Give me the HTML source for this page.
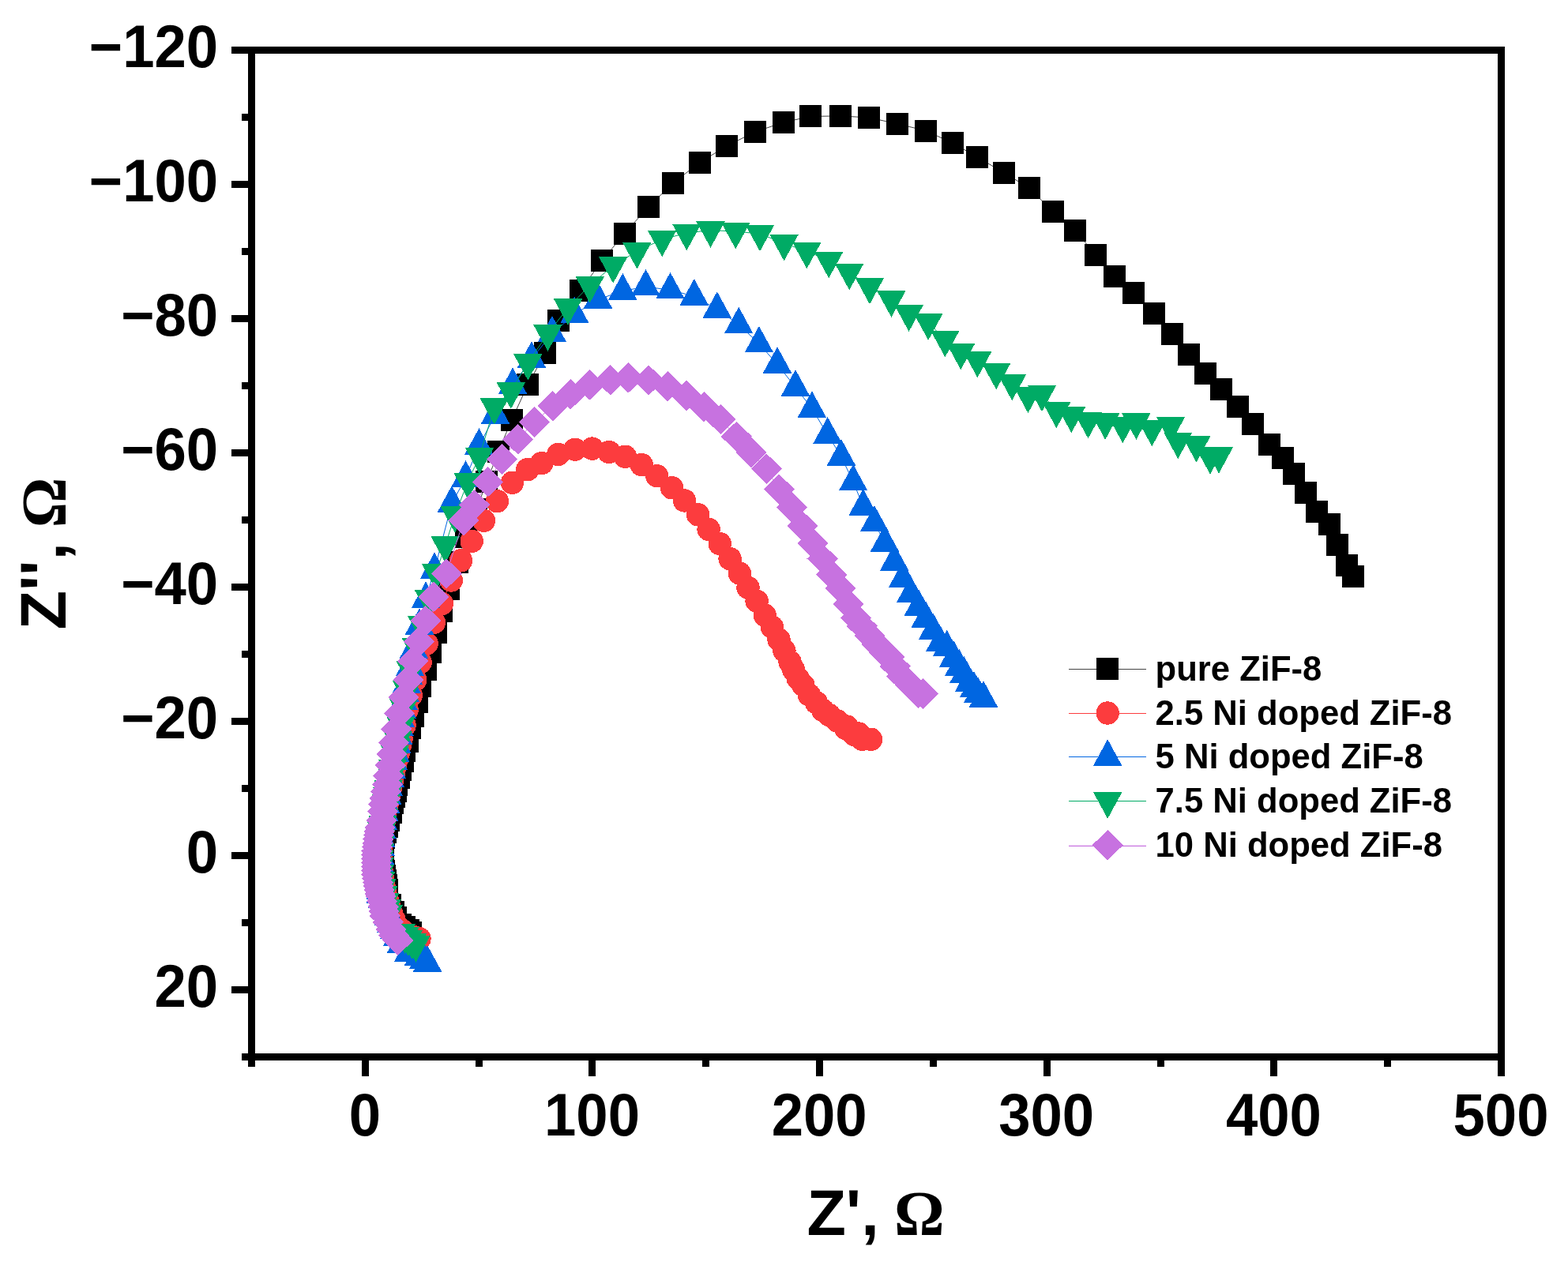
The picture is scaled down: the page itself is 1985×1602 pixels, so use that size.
<!DOCTYPE html>
<html lang="en">
<head>
<meta charset="utf-8">
<title>Nyquist plot - Ni doped ZiF-8</title>
<style>
html,body{margin:0;padding:0;background:#fff;}
body{width:1985px;height:1602px;overflow:hidden;}
svg{display:block;}
text{font-family:"Liberation Sans",sans-serif;font-weight:bold;fill:#000;}
.om{font-family:"Liberation Serif",serif;font-weight:bold;}
</style>
</head>
<body>
<svg width="1985" height="1602" viewBox="0 0 1985 1602">
<rect width="1985" height="1602" fill="#fff"/>
<g fill="#000" shape-rendering="crispEdges">
<rect x="314" y="59" width="9" height="1292"/>
<rect x="1896" y="59" width="9" height="1304"/>
<rect x="293" y="59" width="1612" height="9"/>
<rect x="306" y="1334" width="1599" height="9"/>
<rect x="293" y="229" width="22" height="9"/>
<rect x="293" y="399" width="22" height="9"/>
<rect x="293" y="569" width="22" height="9"/>
<rect x="293" y="739" width="22" height="9"/>
<rect x="293" y="909" width="22" height="9"/>
<rect x="293" y="1079" width="22" height="9"/>
<rect x="293" y="1249" width="22" height="9"/>
<rect x="306" y="144" width="9" height="9"/>
<rect x="306" y="314" width="9" height="9"/>
<rect x="306" y="484" width="9" height="9"/>
<rect x="306" y="654" width="9" height="9"/>
<rect x="306" y="824" width="9" height="9"/>
<rect x="306" y="994" width="9" height="9"/>
<rect x="306" y="1164" width="9" height="9"/>
<rect x="458" y="1342" width="9" height="21"/>
<rect x="745" y="1342" width="9" height="21"/>
<rect x="1033" y="1342" width="9" height="21"/>
<rect x="1321" y="1342" width="9" height="21"/>
<rect x="1608" y="1342" width="9" height="21"/>
<rect x="602" y="1342" width="9" height="9"/>
<rect x="889" y="1342" width="9" height="9"/>
<rect x="1177" y="1342" width="9" height="9"/>
<rect x="1465" y="1342" width="9" height="9"/>
<rect x="1752" y="1342" width="9" height="9"/>
</g>
<g font-size="72.5">
<text transform="translate(276.1 85.2) scale(1 1.036)" text-anchor="end">−120</text>
<text transform="translate(276.1 255.2) scale(1 1.036)" text-anchor="end">−100</text>
<text transform="translate(276.1 425.2) scale(1 1.036)" text-anchor="end">−80</text>
<text transform="translate(276.1 595.2) scale(1 1.036)" text-anchor="end">−60</text>
<text transform="translate(276.1 765.2) scale(1 1.036)" text-anchor="end">−40</text>
<text transform="translate(276.1 935.2) scale(1 1.036)" text-anchor="end">−20</text>
<text transform="translate(276.1 1105.2) scale(1 1.036)" text-anchor="end">0</text>
<text transform="translate(276.1 1275.2) scale(1 1.036)" text-anchor="end">20</text>
<text transform="translate(461.8 1437.7) scale(1 1.036)" text-anchor="middle">0</text>
<text transform="translate(749.5 1437.7) scale(1 1.036)" text-anchor="middle">100</text>
<text transform="translate(1037.1 1437.7) scale(1 1.036)" text-anchor="middle">200</text>
<text transform="translate(1324.7 1437.7) scale(1 1.036)" text-anchor="middle">300</text>
<text transform="translate(1612.4 1437.7) scale(1 1.036)" text-anchor="middle">400</text>
<text transform="translate(1900 1437.7) scale(1 1.036)" text-anchor="middle">500</text>
</g>
<text font-size="81" x="1021.4" y="1563.8">Z',</text>
<text class="om" font-size="79.5" x="1132" y="1563.8">Ω</text>
<text font-size="81" transform="translate(83 797.6) rotate(-90)">Z'',</text>
<text class="om" font-size="79.5" transform="translate(83 668.2) rotate(-90)">Ω</text>
<g fill="#000000">
<polyline points="1713.1,729.9 1705.1,715.9 1692.9,689.8 1683,663.9 1667,647.9 1653.1,624 1638,599.8 1624,579.8 1606.8,563 1585.9,537 1567,514.5 1546,492.8 1526,472.9 1505,449.4 1483.9,423.4 1460.5,396.9 1435,370.9 1410.5,349.5 1387,322.5 1360.9,291.9 1332.5,268 1303,237.9 1271,219 1237.4,198.9 1205.6,181 1172,165.5 1135.9,156.8 1100,148.9 1063.9,146.9 1026.4,147.4 992,154.9 955.9,167 919.9,184.9 885.5,206 851.9,232 821,262 790.5,295.5 762,330.4 734.7,367.8 706.9,406.1 690.4,446.9 668.1,487.4 647.8,531.8 630.8,572 616.3,610.2 603,645 590,680 578.9,711.8 567.8,745.9 559,773.8 552,800.7 545.1,825.6 538.9,847.8 532,868.8 528.1,888.7 522.9,906.8 518.9,921.9 516,938.8 512,950.5 510.1,963.8 506.8,974.9 504.8,984.7 501.9,993.9 500.9,1001.8 498.9,1008.6 497,1016.8 495,1028.6 492.4,1039.1 489.8,1047 487.8,1053.5 485.8,1061.4 485.3,1067.4 484.7,1073.4 484.5,1079.3 484.3,1085.3 484.3,1091.3 485,1097.3 485.7,1103.3 486.6,1109.2 487.5,1115.1 488.5,1121 489.5,1127 490,1130 494,1145.8 498,1154.9 501,1162.1 506.5,1171.3 511.7,1173.9 516.7,1177.8 519.8,1181.1" fill="none" stroke="#444444" stroke-width="1"/>
<g shape-rendering="crispEdges"><rect x="1699.1" y="715.9" width="28" height="28"/><rect x="1691.1" y="701.9" width="28" height="28"/><rect x="1678.9" y="675.8" width="28" height="28"/><rect x="1669" y="649.9" width="28" height="28"/><rect x="1653" y="633.9" width="28" height="28"/><rect x="1639.1" y="610" width="28" height="28"/><rect x="1624" y="585.8" width="28" height="28"/><rect x="1610" y="565.8" width="28" height="28"/><rect x="1592.8" y="549" width="28" height="28"/><rect x="1571.9" y="523" width="28" height="28"/><rect x="1553" y="500.5" width="28" height="28"/><rect x="1532" y="478.8" width="28" height="28"/><rect x="1512" y="458.9" width="28" height="28"/><rect x="1491" y="435.4" width="28" height="28"/><rect x="1469.9" y="409.4" width="28" height="28"/><rect x="1446.5" y="382.9" width="28" height="28"/><rect x="1421" y="356.9" width="28" height="28"/><rect x="1396.5" y="335.5" width="28" height="28"/><rect x="1373" y="308.5" width="28" height="28"/><rect x="1346.9" y="277.9" width="28" height="28"/><rect x="1318.5" y="254" width="28" height="28"/><rect x="1289" y="223.9" width="28" height="28"/><rect x="1257" y="205" width="28" height="28"/><rect x="1223.4" y="184.9" width="28" height="28"/><rect x="1191.6" y="167" width="28" height="28"/><rect x="1158" y="151.5" width="28" height="28"/><rect x="1121.9" y="142.8" width="28" height="28"/><rect x="1086" y="134.9" width="28" height="28"/><rect x="1049.9" y="132.9" width="28" height="28"/><rect x="1012.4" y="133.4" width="28" height="28"/><rect x="978" y="140.9" width="28" height="28"/><rect x="941.9" y="153" width="28" height="28"/><rect x="905.9" y="170.9" width="28" height="28"/><rect x="871.5" y="192" width="28" height="28"/><rect x="837.9" y="218" width="28" height="28"/><rect x="807" y="248" width="28" height="28"/><rect x="776.5" y="281.5" width="28" height="28"/><rect x="748" y="316.4" width="28" height="28"/><rect x="720.7" y="353.8" width="28" height="28"/><rect x="692.9" y="392.1" width="28" height="28"/><rect x="676.4" y="432.9" width="28" height="28"/><rect x="654.1" y="473.4" width="28" height="28"/><rect x="633.8" y="517.8" width="28" height="28"/><rect x="616.8" y="558" width="28" height="28"/><rect x="602.3" y="596.2" width="28" height="28"/><rect x="589" y="631" width="28" height="28"/><rect x="576" y="666" width="28" height="28"/><rect x="564.9" y="697.8" width="28" height="28"/><rect x="553.8" y="731.9" width="28" height="28"/><rect x="545" y="759.8" width="28" height="28"/><rect x="538" y="786.7" width="28" height="28"/><rect x="531.1" y="811.6" width="28" height="28"/><rect x="524.9" y="833.8" width="28" height="28"/><rect x="518" y="854.8" width="28" height="28"/><rect x="514.1" y="874.7" width="28" height="28"/><rect x="508.9" y="892.8" width="28" height="28"/><rect x="504.9" y="907.9" width="28" height="28"/><rect x="502" y="924.8" width="28" height="28"/><rect x="498" y="936.5" width="28" height="28"/><rect x="496.1" y="949.8" width="28" height="28"/><rect x="492.8" y="960.9" width="28" height="28"/><rect x="490.8" y="970.7" width="28" height="28"/><rect x="487.9" y="979.9" width="28" height="28"/><rect x="486.9" y="987.8" width="28" height="28"/><rect x="484.9" y="994.6" width="28" height="28"/><rect x="483" y="1002.8" width="28" height="28"/><rect x="481" y="1014.6" width="28" height="28"/><rect x="478.4" y="1025.1" width="28" height="28"/><rect x="475.8" y="1033" width="28" height="28"/><rect x="473.8" y="1039.5" width="28" height="28"/><rect x="471.8" y="1047.4" width="28" height="28"/><rect x="471.3" y="1053.4" width="28" height="28"/><rect x="470.7" y="1059.4" width="28" height="28"/><rect x="470.5" y="1065.3" width="28" height="28"/><rect x="470.3" y="1071.3" width="28" height="28"/><rect x="470.3" y="1077.3" width="28" height="28"/><rect x="471" y="1083.3" width="28" height="28"/><rect x="471.7" y="1089.3" width="28" height="28"/><rect x="472.6" y="1095.2" width="28" height="28"/><rect x="473.5" y="1101.1" width="28" height="28"/><rect x="474.5" y="1107" width="28" height="28"/><rect x="475.5" y="1113" width="28" height="28"/><rect x="476" y="1116" width="28" height="28"/><rect x="480" y="1131.8" width="28" height="28"/><rect x="484" y="1140.9" width="28" height="28"/><rect x="487" y="1148.1" width="28" height="28"/><rect x="492.5" y="1157.3" width="28" height="28"/><rect x="497.7" y="1159.9" width="28" height="28"/><rect x="502.7" y="1163.8" width="28" height="28"/><rect x="505.8" y="1167.1" width="28" height="28"/></g>
</g>
<g fill="#FC3C3E">
<polyline points="1102.5,936.3 1091.8,936.3 1087,929 1081.3,930.5 1071.9,920 1070.8,922.5 1060,913 1049.8,905.5 1041.9,899.6 1033.5,889.9 1024.4,880.1 1016.7,867.5 1010.2,859.1 1004.5,848 1000.1,838.5 992.9,824.2 986,809.8 977.4,794.1 968.2,779 958.1,761.3 947,744.3 936.3,726 924.1,707.6 911.2,688.6 897.1,670.4 883.5,651.7 866.5,634 850.5,617.7 831.7,602.7 812.2,588.6 791.6,578.3 771,572.5 749.6,568.1 728,569.2 706.7,575.5 685.8,586.6 667.9,594.6 648.5,611.2 629.4,634.7 612.4,659.3 597.2,685.3 583.5,709.9 571.3,735 559.4,764.5 549.4,788.2 540.2,815 532.1,838.6 525.8,860.9 520.3,880.5 515.1,898.8 512.1,918.5 508.1,935.5 506.2,944.3 504.3,953.1 502.3,961.9 500.4,970.7 498.5,979.5 496.6,988.3 494.6,997 492.9,1005.9 491.1,1014.7 489.4,1023.5 487.7,1032.4 486.2,1041.2 484.8,1050.1 483.7,1059.1 483,1068 482.5,1077 482.3,1086 482.6,1095 483.4,1104 484.7,1112.9 486,1121.8 487.9,1130.6 490.1,1139.3 492.6,1147.9 495.5,1156.4 498.8,1164.8 502.7,1172.9 509.6,1178.7 517.1,1183.6 525.4,1187 531,1188.7" fill="none" stroke="#FC3C3E" stroke-width="1"/>
<g shape-rendering="crispEdges"><circle cx="1102.5" cy="936.3" r="14.7"/><circle cx="1091.8" cy="936.3" r="14.7"/><circle cx="1087" cy="929" r="14.7"/><circle cx="1081.3" cy="930.5" r="14.7"/><circle cx="1071.9" cy="920" r="14.7"/><circle cx="1070.8" cy="922.5" r="14.7"/><circle cx="1060" cy="913" r="14.7"/><circle cx="1049.8" cy="905.5" r="14.7"/><circle cx="1041.9" cy="899.6" r="14.7"/><circle cx="1033.5" cy="889.9" r="14.7"/><circle cx="1024.4" cy="880.1" r="14.7"/><circle cx="1016.7" cy="867.5" r="14.7"/><circle cx="1010.2" cy="859.1" r="14.7"/><circle cx="1004.5" cy="848" r="14.7"/><circle cx="1000.1" cy="838.5" r="14.7"/><circle cx="992.9" cy="824.2" r="14.7"/><circle cx="986" cy="809.8" r="14.7"/><circle cx="977.4" cy="794.1" r="14.7"/><circle cx="968.2" cy="779" r="14.7"/><circle cx="958.1" cy="761.3" r="14.7"/><circle cx="947" cy="744.3" r="14.7"/><circle cx="936.3" cy="726" r="14.7"/><circle cx="924.1" cy="707.6" r="14.7"/><circle cx="911.2" cy="688.6" r="14.7"/><circle cx="897.1" cy="670.4" r="14.7"/><circle cx="883.5" cy="651.7" r="14.7"/><circle cx="866.5" cy="634" r="14.7"/><circle cx="850.5" cy="617.7" r="14.7"/><circle cx="831.7" cy="602.7" r="14.7"/><circle cx="812.2" cy="588.6" r="14.7"/><circle cx="791.6" cy="578.3" r="14.7"/><circle cx="771" cy="572.5" r="14.7"/><circle cx="749.6" cy="568.1" r="14.7"/><circle cx="728" cy="569.2" r="14.7"/><circle cx="706.7" cy="575.5" r="14.7"/><circle cx="685.8" cy="586.6" r="14.7"/><circle cx="667.9" cy="594.6" r="14.7"/><circle cx="648.5" cy="611.2" r="14.7"/><circle cx="629.4" cy="634.7" r="14.7"/><circle cx="612.4" cy="659.3" r="14.7"/><circle cx="597.2" cy="685.3" r="14.7"/><circle cx="583.5" cy="709.9" r="14.7"/><circle cx="571.3" cy="735" r="14.7"/><circle cx="559.4" cy="764.5" r="14.7"/><circle cx="549.4" cy="788.2" r="14.7"/><circle cx="540.2" cy="815" r="14.7"/><circle cx="532.1" cy="838.6" r="14.7"/><circle cx="525.8" cy="860.9" r="14.7"/><circle cx="520.3" cy="880.5" r="14.7"/><circle cx="515.1" cy="898.8" r="14.7"/><circle cx="512.1" cy="918.5" r="14.7"/><circle cx="508.1" cy="935.5" r="14.7"/><circle cx="506.2" cy="944.3" r="14.7"/><circle cx="504.3" cy="953.1" r="14.7"/><circle cx="502.3" cy="961.9" r="14.7"/><circle cx="500.4" cy="970.7" r="14.7"/><circle cx="498.5" cy="979.5" r="14.7"/><circle cx="496.6" cy="988.3" r="14.7"/><circle cx="494.6" cy="997" r="14.7"/><circle cx="492.9" cy="1005.9" r="14.7"/><circle cx="491.1" cy="1014.7" r="14.7"/><circle cx="489.4" cy="1023.5" r="14.7"/><circle cx="487.7" cy="1032.4" r="14.7"/><circle cx="486.2" cy="1041.2" r="14.7"/><circle cx="484.8" cy="1050.1" r="14.7"/><circle cx="483.7" cy="1059.1" r="14.7"/><circle cx="483" cy="1068" r="14.7"/><circle cx="482.5" cy="1077" r="14.7"/><circle cx="482.3" cy="1086" r="14.7"/><circle cx="482.6" cy="1095" r="14.7"/><circle cx="483.4" cy="1104" r="14.7"/><circle cx="484.7" cy="1112.9" r="14.7"/><circle cx="486" cy="1121.8" r="14.7"/><circle cx="487.9" cy="1130.6" r="14.7"/><circle cx="490.1" cy="1139.3" r="14.7"/><circle cx="492.6" cy="1147.9" r="14.7"/><circle cx="495.5" cy="1156.4" r="14.7"/><circle cx="498.8" cy="1164.8" r="14.7"/><circle cx="502.7" cy="1172.9" r="14.7"/><circle cx="509.6" cy="1178.7" r="14.7"/><circle cx="517.1" cy="1183.6" r="14.7"/><circle cx="525.4" cy="1187" r="14.7"/><circle cx="531" cy="1188.7" r="14.7"/></g>
</g>
<g fill="#0066E1">
<polyline points="1245,884.3 1238,879.2 1233,872.2 1226.9,864.9 1220.5,853.4 1214.4,844.4 1207.2,833.3 1198.7,820.2 1190.1,814.1 1181.2,798.4 1171.9,783.3 1162.9,768.4 1153,752.1 1142.9,733.1 1132.2,711.4 1120,687.4 1107,662.2 1092.8,641.3 1080.1,610.2 1065,578.3 1047.7,550.3 1027.9,517.5 1007,490.3 984,461.4 960.9,435.2 935.2,411 907.8,391.5 878.8,375.3 848.5,367.2 817.5,363.2 788.3,368.4 757,379.3 727.4,398.1 699,422.2 673,454.5 649.1,487.7 627,525.5 606.4,564.5 589.5,605.4 572,637.3 550.1,721.6 539,758.7 531,792.4 523.8,822.8 519,845 516.9,855.8 514.8,866.6 512.8,877.4 510.8,888.2 509,899.1 507.1,909.9 505.6,920.8 504.1,931.7 502.3,942.6 500.2,953.4 498.1,964.2 496,975 493.9,985.7 491.9,996.6 490,1007.4 488.3,1018.3 486.6,1029.1 485.1,1040 483.7,1050.9 482.6,1061.9 481.7,1072.8 481.2,1083.8 481.1,1094.8 481.2,1105.8 481.5,1116.8 481.9,1127.8 482.1,1132.3 484.1,1138.8 488.7,1152.6 491.9,1161.1 495,1170 499,1178 503,1187 508.1,1195.4 516.9,1206.9 530,1211.5 536.5,1215.4 541.1,1219.4" fill="none" stroke="#0066E1" stroke-width="1"/>
<g shape-rendering="crispEdges"><path d="M1245 862L1263.2 895.5L1226.8 895.5Z"/><path d="M1238 856.9L1256.2 890.4L1219.8 890.4Z"/><path d="M1233 849.9L1251.2 883.4L1214.8 883.4Z"/><path d="M1226.9 842.6L1245.1 876.1L1208.7 876.1Z"/><path d="M1220.5 831.1L1238.7 864.6L1202.3 864.6Z"/><path d="M1214.4 822.1L1232.6 855.6L1196.2 855.6Z"/><path d="M1207.2 811L1225.4 844.5L1189 844.5Z"/><path d="M1198.7 797.9L1216.9 831.4L1180.5 831.4Z"/><path d="M1190.1 791.8L1208.3 825.3L1171.9 825.3Z"/><path d="M1181.2 776.1L1199.4 809.6L1163 809.6Z"/><path d="M1171.9 761L1190.1 794.5L1153.7 794.5Z"/><path d="M1162.9 746.1L1181.1 779.6L1144.7 779.6Z"/><path d="M1153 729.8L1171.2 763.3L1134.8 763.3Z"/><path d="M1142.9 710.8L1161.1 744.3L1124.7 744.3Z"/><path d="M1132.2 689.1L1150.4 722.6L1114 722.6Z"/><path d="M1120 665.1L1138.2 698.6L1101.8 698.6Z"/><path d="M1107 639.9L1125.2 673.4L1088.8 673.4Z"/><path d="M1092.8 619L1111 652.5L1074.6 652.5Z"/><path d="M1080.1 587.9L1098.3 621.4L1061.9 621.4Z"/><path d="M1065 556L1083.2 589.5L1046.8 589.5Z"/><path d="M1047.7 528L1065.9 561.5L1029.5 561.5Z"/><path d="M1027.9 495.2L1046.1 528.7L1009.7 528.7Z"/><path d="M1007 468L1025.2 501.5L988.8 501.5Z"/><path d="M984 439.1L1002.2 472.6L965.8 472.6Z"/><path d="M960.9 412.9L979.1 446.4L942.7 446.4Z"/><path d="M935.2 388.7L953.4 422.2L917 422.2Z"/><path d="M907.8 369.2L926 402.7L889.6 402.7Z"/><path d="M878.8 353L897 386.5L860.6 386.5Z"/><path d="M848.5 344.9L866.7 378.4L830.3 378.4Z"/><path d="M817.5 340.9L835.7 374.4L799.3 374.4Z"/><path d="M788.3 346.1L806.5 379.6L770.1 379.6Z"/><path d="M757 357L775.2 390.5L738.8 390.5Z"/><path d="M727.4 375.8L745.6 409.3L709.2 409.3Z"/><path d="M699 399.9L717.2 433.4L680.8 433.4Z"/><path d="M673 432.2L691.2 465.7L654.8 465.7Z"/><path d="M649.1 465.4L667.3 498.9L630.9 498.9Z"/><path d="M627 503.2L645.2 536.7L608.8 536.7Z"/><path d="M606.4 542.2L624.6 575.7L588.2 575.7Z"/><path d="M589.5 583.1L607.7 616.6L571.3 616.6Z"/><path d="M572 615L590.2 648.5L553.8 648.5Z"/><path d="M550.1 699.3L568.3 732.8L531.9 732.8Z"/><path d="M539 736.4L557.2 769.9L520.8 769.9Z"/><path d="M531 770.1L549.2 803.6L512.8 803.6Z"/><path d="M523.8 800.5L542 834L505.6 834Z"/><path d="M519 822.7L537.2 856.2L500.8 856.2Z"/><path d="M516.9 833.5L535.1 867L498.7 867Z"/><path d="M514.8 844.3L533 877.8L496.6 877.8Z"/><path d="M512.8 855.1L531 888.6L494.6 888.6Z"/><path d="M510.8 865.9L529 899.4L492.6 899.4Z"/><path d="M509 876.8L527.2 910.3L490.8 910.3Z"/><path d="M507.1 887.6L525.3 921.1L488.9 921.1Z"/><path d="M505.6 898.5L523.8 932L487.4 932Z"/><path d="M504.1 909.4L522.3 942.9L485.9 942.9Z"/><path d="M502.3 920.3L520.5 953.8L484.1 953.8Z"/><path d="M500.2 931.1L518.4 964.6L482 964.6Z"/><path d="M498.1 941.9L516.3 975.4L479.9 975.4Z"/><path d="M496 952.7L514.2 986.2L477.8 986.2Z"/><path d="M493.9 963.4L512.1 996.9L475.7 996.9Z"/><path d="M491.9 974.3L510.1 1007.8L473.7 1007.8Z"/><path d="M490 985.1L508.2 1018.6L471.8 1018.6Z"/><path d="M488.3 996L506.5 1029.5L470.1 1029.5Z"/><path d="M486.6 1006.8L504.8 1040.3L468.4 1040.3Z"/><path d="M485.1 1017.7L503.3 1051.2L466.9 1051.2Z"/><path d="M483.7 1028.6L501.9 1062.1L465.5 1062.1Z"/><path d="M482.6 1039.6L500.8 1073.1L464.4 1073.1Z"/><path d="M481.7 1050.5L499.9 1084L463.5 1084Z"/><path d="M481.2 1061.5L499.4 1095L463 1095Z"/><path d="M481.1 1072.5L499.3 1106L462.9 1106Z"/><path d="M481.2 1083.5L499.4 1117L463 1117Z"/><path d="M481.5 1094.5L499.7 1128L463.3 1128Z"/><path d="M481.9 1105.5L500.1 1139L463.7 1139Z"/><path d="M482.1 1110L500.3 1143.5L463.9 1143.5Z"/><path d="M484.1 1116.5L502.3 1150L465.9 1150Z"/><path d="M488.7 1130.3L506.9 1163.8L470.5 1163.8Z"/><path d="M491.9 1138.8L510.1 1172.3L473.7 1172.3Z"/><path d="M495 1147.7L513.2 1181.2L476.8 1181.2Z"/><path d="M499 1155.7L517.2 1189.2L480.8 1189.2Z"/><path d="M503 1164.7L521.2 1198.2L484.8 1198.2Z"/><path d="M508.1 1173.1L526.3 1206.6L489.9 1206.6Z"/><path d="M516.9 1184.6L535.1 1218.1L498.7 1218.1Z"/><path d="M530 1189.2L548.2 1222.7L511.8 1222.7Z"/><path d="M536.5 1193.1L554.7 1226.6L518.3 1226.6Z"/><path d="M541.1 1197.1L559.3 1230.6L522.9 1230.6Z"/></g>
</g>
<g fill="#00AB65">
<polyline points="1543,577.2 1532,578.4 1514.5,563.1 1491.3,558.7 1482,539.1 1458.3,543 1438.4,534.5 1421.3,539 1399.2,534.5 1377.5,533 1356.3,525.9 1337.4,519.9 1319,499.1 1301.5,500.9 1281.2,485 1261.2,471.1 1237.4,456 1216.3,445.9 1196.4,430 1175.2,408.6 1150.6,397.6 1128.4,379.5 1101,363 1075.2,345.1 1049.2,330.1 1021.4,318.1 992.6,308.2 962,296.1 931.3,293.1 899.5,291.5 869.3,295.1 838.2,303.1 806.4,318.3 776.2,336.4 746.7,361.4 719.1,389.6 693.5,422.5 668.3,459.5 646.8,495.5 625.8,515.5 607,578 592.3,609.7 575.9,652.5 563.7,690.5 552,725.2 543.1,758.6 534.3,791.4 527.1,819.6 519.9,848.6 515,873.3 511,896.2 507.4,919.1 503.5,937.4 501.7,946.2 500,955.1 498.4,963.9 496.9,972.8 495.2,981.6 493.5,990.5 491.9,999.3 490.3,1008.2 488.8,1017.1 487.3,1025.9 485.9,1034.8 484.5,1043.7 483.2,1052.6 482.1,1061.5 481.2,1070.5 480.6,1079.5 480.3,1088.5 480.5,1097.5 480.9,1106.5 482.1,1115.4 483.4,1124.3 485.4,1133 487.5,1141.8 489.7,1150.5 492,1157.2 507.7,1181.5 512.5,1185.5 517,1189 522,1193 526.5,1196.3" fill="none" stroke="#00AB65" stroke-width="1"/>
<g shape-rendering="crispEdges"><path d="M1543 599.5L1561.2 566L1524.8 566Z"/><path d="M1532 600.7L1550.2 567.2L1513.8 567.2Z"/><path d="M1514.5 585.4L1532.7 551.9L1496.3 551.9Z"/><path d="M1491.3 581L1509.5 547.5L1473.1 547.5Z"/><path d="M1482 561.4L1500.2 527.9L1463.8 527.9Z"/><path d="M1458.3 565.3L1476.5 531.8L1440.1 531.8Z"/><path d="M1438.4 556.8L1456.6 523.3L1420.2 523.3Z"/><path d="M1421.3 561.3L1439.5 527.8L1403.1 527.8Z"/><path d="M1399.2 556.8L1417.4 523.3L1381 523.3Z"/><path d="M1377.5 555.3L1395.7 521.8L1359.3 521.8Z"/><path d="M1356.3 548.2L1374.5 514.7L1338.1 514.7Z"/><path d="M1337.4 542.2L1355.6 508.7L1319.2 508.7Z"/><path d="M1319 521.4L1337.2 487.9L1300.8 487.9Z"/><path d="M1301.5 523.2L1319.7 489.7L1283.3 489.7Z"/><path d="M1281.2 507.3L1299.4 473.8L1263 473.8Z"/><path d="M1261.2 493.4L1279.4 459.9L1243 459.9Z"/><path d="M1237.4 478.3L1255.6 444.8L1219.2 444.8Z"/><path d="M1216.3 468.2L1234.5 434.7L1198.1 434.7Z"/><path d="M1196.4 452.3L1214.6 418.8L1178.2 418.8Z"/><path d="M1175.2 430.9L1193.4 397.4L1157 397.4Z"/><path d="M1150.6 419.9L1168.8 386.4L1132.4 386.4Z"/><path d="M1128.4 401.8L1146.6 368.3L1110.2 368.3Z"/><path d="M1101 385.3L1119.2 351.8L1082.8 351.8Z"/><path d="M1075.2 367.4L1093.4 333.9L1057 333.9Z"/><path d="M1049.2 352.4L1067.4 318.9L1031 318.9Z"/><path d="M1021.4 340.4L1039.6 306.9L1003.2 306.9Z"/><path d="M992.6 330.5L1010.8 297L974.4 297Z"/><path d="M962 318.4L980.2 284.9L943.8 284.9Z"/><path d="M931.3 315.4L949.5 281.9L913.1 281.9Z"/><path d="M899.5 313.8L917.7 280.3L881.3 280.3Z"/><path d="M869.3 317.4L887.5 283.9L851.1 283.9Z"/><path d="M838.2 325.4L856.4 291.9L820 291.9Z"/><path d="M806.4 340.6L824.6 307.1L788.2 307.1Z"/><path d="M776.2 358.7L794.4 325.2L758 325.2Z"/><path d="M746.7 383.7L764.9 350.2L728.5 350.2Z"/><path d="M719.1 411.9L737.3 378.4L700.9 378.4Z"/><path d="M693.5 444.8L711.7 411.3L675.3 411.3Z"/><path d="M668.3 481.8L686.5 448.3L650.1 448.3Z"/><path d="M646.8 517.8L665 484.3L628.6 484.3Z"/><path d="M625.8 537.8L644 504.3L607.6 504.3Z"/><path d="M607 600.3L625.2 566.8L588.8 566.8Z"/><path d="M592.3 632L610.5 598.5L574.1 598.5Z"/><path d="M575.9 674.8L594.1 641.3L557.7 641.3Z"/><path d="M563.7 712.8L581.9 679.3L545.5 679.3Z"/><path d="M552 747.5L570.2 714L533.8 714Z"/><path d="M543.1 780.9L561.3 747.4L524.9 747.4Z"/><path d="M534.3 813.7L552.5 780.2L516.1 780.2Z"/><path d="M527.1 841.9L545.3 808.4L508.9 808.4Z"/><path d="M519.9 870.9L538.1 837.4L501.7 837.4Z"/><path d="M515 895.6L533.2 862.1L496.8 862.1Z"/><path d="M511 918.5L529.2 885L492.8 885Z"/><path d="M507.4 941.4L525.6 907.9L489.2 907.9Z"/><path d="M503.5 959.7L521.7 926.2L485.3 926.2Z"/><path d="M501.7 968.5L519.9 935L483.5 935Z"/><path d="M500 977.4L518.2 943.9L481.8 943.9Z"/><path d="M498.4 986.2L516.6 952.7L480.2 952.7Z"/><path d="M496.9 995.1L515.1 961.6L478.7 961.6Z"/><path d="M495.2 1003.9L513.4 970.4L477 970.4Z"/><path d="M493.5 1012.8L511.7 979.3L475.3 979.3Z"/><path d="M491.9 1021.6L510.1 988.1L473.7 988.1Z"/><path d="M490.3 1030.5L508.5 997L472.1 997Z"/><path d="M488.8 1039.4L507 1005.9L470.6 1005.9Z"/><path d="M487.3 1048.2L505.5 1014.7L469.1 1014.7Z"/><path d="M485.9 1057.1L504.1 1023.6L467.7 1023.6Z"/><path d="M484.5 1066L502.7 1032.5L466.3 1032.5Z"/><path d="M483.2 1074.9L501.4 1041.4L465 1041.4Z"/><path d="M482.1 1083.8L500.3 1050.3L463.9 1050.3Z"/><path d="M481.2 1092.8L499.4 1059.3L463 1059.3Z"/><path d="M480.6 1101.8L498.8 1068.3L462.4 1068.3Z"/><path d="M480.3 1110.8L498.5 1077.3L462.1 1077.3Z"/><path d="M480.5 1119.8L498.7 1086.3L462.3 1086.3Z"/><path d="M480.9 1128.8L499.1 1095.3L462.7 1095.3Z"/><path d="M482.1 1137.7L500.3 1104.2L463.9 1104.2Z"/><path d="M483.4 1146.6L501.6 1113.1L465.2 1113.1Z"/><path d="M485.4 1155.3L503.6 1121.8L467.2 1121.8Z"/><path d="M487.5 1164.1L505.7 1130.6L469.3 1130.6Z"/><path d="M489.7 1172.8L507.9 1139.3L471.5 1139.3Z"/><path d="M492 1179.5L510.2 1146L473.8 1146Z"/><path d="M507.7 1203.8L525.9 1170.3L489.5 1170.3Z"/><path d="M512.5 1207.8L530.7 1174.3L494.3 1174.3Z"/><path d="M517 1211.3L535.2 1177.8L498.8 1177.8Z"/><path d="M522 1215.3L540.2 1181.8L503.8 1181.8Z"/><path d="M526.5 1218.6L544.7 1185.1L508.3 1185.1Z"/></g>
</g>
<g fill="#C772E0">
<polyline points="1168.6,878.4 1162.5,877.8 1152,867 1141.7,856.3 1133.3,843.8 1126.1,832 1119.4,826.5 1110,816 1100.8,805 1091.3,792.8 1083.5,782.3 1073.9,764.9 1063.9,744.8 1052.8,727.7 1041.1,707.5 1029,688 1015.8,666.1 1002.7,642.5 986.4,619.8 970.3,593.6 951,573 932.4,552.9 912.4,531 891.3,515.4 869.2,501 845.3,489.4 821.2,481.5 795.4,478.4 772.6,481.3 746.5,487.3 722.3,499.4 699.8,514.2 676.4,534.5 655.7,556.4 635.6,581.5 617.6,610.2 600.7,639.2 587,658.8 565.2,726.5 548.8,756 538.9,786.2 530.7,812.4 522.8,837.3 517.1,860.9 510.8,883.1 505.5,903.8 501.6,923.1 498.8,940.6 496.2,954.9 494.2,969.3 491.3,982.4 490.3,993.5 488.3,1002.7 487.3,1011.2 485.3,1018.4 484.4,1027.6 483.1,1038.7 481.1,1047.9 480.3,1052.8 479.6,1057.8 478.8,1062.7 478.1,1067.7 477.4,1072.6 477,1077.6 476.6,1082.6 476.3,1087.6 476.3,1092.6 476.3,1097.6 476.5,1102.6 477,1107.5 477.5,1112.5 478.3,1117.5 479,1122.4 480,1127.3 481,1132.2 481.6,1135 483.5,1141.5 485.4,1148.1 486.4,1154 487.4,1159.9 491.3,1167.8 495.2,1176.9 498.5,1184.8 503.9,1190.7" fill="none" stroke="#C772E0" stroke-width="1"/>
<g shape-rendering="crispEdges"><path d="M1168.6 859.2L1188.2 878.4L1168.6 897.6L1149 878.4Z"/><path d="M1162.5 858.6L1182.1 877.8L1162.5 897L1142.9 877.8Z"/><path d="M1152 847.8L1171.6 867L1152 886.2L1132.4 867Z"/><path d="M1141.7 837.1L1161.3 856.3L1141.7 875.5L1122.1 856.3Z"/><path d="M1133.3 824.6L1152.9 843.8L1133.3 863L1113.7 843.8Z"/><path d="M1126.1 812.8L1145.7 832L1126.1 851.2L1106.5 832Z"/><path d="M1119.4 807.3L1139 826.5L1119.4 845.7L1099.8 826.5Z"/><path d="M1110 796.8L1129.6 816L1110 835.2L1090.4 816Z"/><path d="M1100.8 785.8L1120.4 805L1100.8 824.2L1081.2 805Z"/><path d="M1091.3 773.6L1110.9 792.8L1091.3 812L1071.7 792.8Z"/><path d="M1083.5 763.1L1103.1 782.3L1083.5 801.5L1063.9 782.3Z"/><path d="M1073.9 745.7L1093.5 764.9L1073.9 784.1L1054.3 764.9Z"/><path d="M1063.9 725.6L1083.5 744.8L1063.9 764L1044.3 744.8Z"/><path d="M1052.8 708.5L1072.4 727.7L1052.8 746.9L1033.2 727.7Z"/><path d="M1041.1 688.3L1060.7 707.5L1041.1 726.7L1021.5 707.5Z"/><path d="M1029 668.8L1048.6 688L1029 707.2L1009.4 688Z"/><path d="M1015.8 646.9L1035.4 666.1L1015.8 685.3L996.2 666.1Z"/><path d="M1002.7 623.3L1022.3 642.5L1002.7 661.7L983.1 642.5Z"/><path d="M986.4 600.6L1006 619.8L986.4 639L966.8 619.8Z"/><path d="M970.3 574.4L989.9 593.6L970.3 612.8L950.7 593.6Z"/><path d="M951 553.8L970.6 573L951 592.2L931.4 573Z"/><path d="M932.4 533.7L952 552.9L932.4 572.1L912.8 552.9Z"/><path d="M912.4 511.8L932 531L912.4 550.2L892.8 531Z"/><path d="M891.3 496.2L910.9 515.4L891.3 534.6L871.7 515.4Z"/><path d="M869.2 481.8L888.8 501L869.2 520.2L849.6 501Z"/><path d="M845.3 470.2L864.9 489.4L845.3 508.6L825.7 489.4Z"/><path d="M821.2 462.3L840.8 481.5L821.2 500.7L801.6 481.5Z"/><path d="M795.4 459.2L815 478.4L795.4 497.6L775.8 478.4Z"/><path d="M772.6 462.1L792.2 481.3L772.6 500.5L753 481.3Z"/><path d="M746.5 468.1L766.1 487.3L746.5 506.5L726.9 487.3Z"/><path d="M722.3 480.2L741.9 499.4L722.3 518.6L702.7 499.4Z"/><path d="M699.8 495L719.4 514.2L699.8 533.4L680.2 514.2Z"/><path d="M676.4 515.3L696 534.5L676.4 553.7L656.8 534.5Z"/><path d="M655.7 537.2L675.3 556.4L655.7 575.6L636.1 556.4Z"/><path d="M635.6 562.3L655.2 581.5L635.6 600.7L616 581.5Z"/><path d="M617.6 591L637.2 610.2L617.6 629.4L598 610.2Z"/><path d="M600.7 620L620.3 639.2L600.7 658.4L581.1 639.2Z"/><path d="M587 639.6L606.6 658.8L587 678L567.4 658.8Z"/><path d="M565.2 707.3L584.8 726.5L565.2 745.7L545.6 726.5Z"/><path d="M548.8 736.8L568.4 756L548.8 775.2L529.2 756Z"/><path d="M538.9 767L558.5 786.2L538.9 805.4L519.3 786.2Z"/><path d="M530.7 793.2L550.3 812.4L530.7 831.6L511.1 812.4Z"/><path d="M522.8 818.1L542.4 837.3L522.8 856.5L503.2 837.3Z"/><path d="M517.1 841.7L536.7 860.9L517.1 880.1L497.5 860.9Z"/><path d="M510.8 863.9L530.4 883.1L510.8 902.3L491.2 883.1Z"/><path d="M505.5 884.6L525.1 903.8L505.5 923L485.9 903.8Z"/><path d="M501.6 903.9L521.2 923.1L501.6 942.3L482 923.1Z"/><path d="M498.8 921.4L518.4 940.6L498.8 959.8L479.2 940.6Z"/><path d="M496.2 935.7L515.8 954.9L496.2 974.1L476.6 954.9Z"/><path d="M494.2 950.1L513.8 969.3L494.2 988.5L474.6 969.3Z"/><path d="M491.3 963.2L510.9 982.4L491.3 1001.6L471.7 982.4Z"/><path d="M490.3 974.3L509.9 993.5L490.3 1012.7L470.7 993.5Z"/><path d="M488.3 983.5L507.9 1002.7L488.3 1021.9L468.7 1002.7Z"/><path d="M487.3 992L506.9 1011.2L487.3 1030.4L467.7 1011.2Z"/><path d="M485.3 999.2L504.9 1018.4L485.3 1037.6L465.7 1018.4Z"/><path d="M484.4 1008.4L504 1027.6L484.4 1046.8L464.8 1027.6Z"/><path d="M483.1 1019.5L502.7 1038.7L483.1 1057.9L463.5 1038.7Z"/><path d="M481.1 1028.7L500.7 1047.9L481.1 1067.1L461.5 1047.9Z"/><path d="M480.3 1033.6L499.9 1052.8L480.3 1072L460.7 1052.8Z"/><path d="M479.6 1038.6L499.2 1057.8L479.6 1077L460 1057.8Z"/><path d="M478.8 1043.5L498.4 1062.7L478.8 1081.9L459.2 1062.7Z"/><path d="M478.1 1048.5L497.7 1067.7L478.1 1086.9L458.5 1067.7Z"/><path d="M477.4 1053.4L497 1072.6L477.4 1091.8L457.8 1072.6Z"/><path d="M477 1058.4L496.6 1077.6L477 1096.8L457.4 1077.6Z"/><path d="M476.6 1063.4L496.2 1082.6L476.6 1101.8L457 1082.6Z"/><path d="M476.3 1068.4L495.9 1087.6L476.3 1106.8L456.7 1087.6Z"/><path d="M476.3 1073.4L495.9 1092.6L476.3 1111.8L456.7 1092.6Z"/><path d="M476.3 1078.4L495.9 1097.6L476.3 1116.8L456.7 1097.6Z"/><path d="M476.5 1083.4L496.1 1102.6L476.5 1121.8L456.9 1102.6Z"/><path d="M477 1088.3L496.6 1107.5L477 1126.7L457.4 1107.5Z"/><path d="M477.5 1093.3L497.1 1112.5L477.5 1131.7L457.9 1112.5Z"/><path d="M478.3 1098.3L497.9 1117.5L478.3 1136.7L458.7 1117.5Z"/><path d="M479 1103.2L498.6 1122.4L479 1141.6L459.4 1122.4Z"/><path d="M480 1108.1L499.6 1127.3L480 1146.5L460.4 1127.3Z"/><path d="M481 1113L500.6 1132.2L481 1151.4L461.4 1132.2Z"/><path d="M481.6 1115.8L501.2 1135L481.6 1154.2L462 1135Z"/><path d="M483.5 1122.3L503.1 1141.5L483.5 1160.7L463.9 1141.5Z"/><path d="M485.4 1128.9L505 1148.1L485.4 1167.3L465.8 1148.1Z"/><path d="M486.4 1134.8L506 1154L486.4 1173.2L466.8 1154Z"/><path d="M487.4 1140.7L507 1159.9L487.4 1179.1L467.8 1159.9Z"/><path d="M491.3 1148.6L510.9 1167.8L491.3 1187L471.7 1167.8Z"/><path d="M495.2 1157.7L514.8 1176.9L495.2 1196.1L475.6 1176.9Z"/><path d="M498.5 1165.6L518.1 1184.8L498.5 1204L478.9 1184.8Z"/><path d="M503.9 1171.5L523.5 1190.7L503.9 1209.9L484.3 1190.7Z"/></g>
</g>
<g fill="#000000"><line x1="1353" y1="847.5" x2="1451" y2="847.5" stroke="#444444" stroke-width="1.2"/><g shape-rendering="crispEdges"><rect x="1388.2" y="833" width="28" height="28"/></g></g>
<text font-size="43.6" transform="translate(1462.6 861.6) scale(1 1.03)">pure ZiF-8</text>
<g fill="#FC3C3E"><line x1="1353" y1="903.5" x2="1451" y2="903.5" stroke="#FC3C3E" stroke-width="1.2"/><g shape-rendering="crispEdges"><circle cx="1402.2" cy="903" r="14.7"/></g></g>
<text font-size="43.6" transform="translate(1462.6 917.6) scale(1 1.03)">2.5 Ni doped ZiF-8</text>
<g fill="#0066E1"><line x1="1353" y1="958.5" x2="1451" y2="958.5" stroke="#0066E1" stroke-width="1.2"/><g shape-rendering="crispEdges"><path d="M1402.2 936.2L1420.4 969.7L1384 969.7Z"/></g></g>
<text font-size="43.6" transform="translate(1462.6 972.6) scale(1 1.03)">5 Ni doped ZiF-8</text>
<g fill="#00AB65"><line x1="1353" y1="1014.5" x2="1451" y2="1014.5" stroke="#00AB65" stroke-width="1.2"/><g shape-rendering="crispEdges"><path d="M1402.2 1036.8L1420.4 1003.3L1384 1003.3Z"/></g></g>
<text font-size="43.6" transform="translate(1462.6 1028.6) scale(1 1.03)">7.5 Ni doped ZiF-8</text>
<g fill="#C772E0"><line x1="1353" y1="1071.3" x2="1451" y2="1071.3" stroke="#C772E0" stroke-width="1.2"/><g shape-rendering="crispEdges"><path d="M1402.2 1051.1L1421.8 1070.3L1402.2 1089.5L1382.6 1070.3Z"/></g></g>
<text font-size="43.6" transform="translate(1462.6 1085.4) scale(1 1.03)">10 Ni doped ZiF-8</text>
</svg>
</body>
</html>
